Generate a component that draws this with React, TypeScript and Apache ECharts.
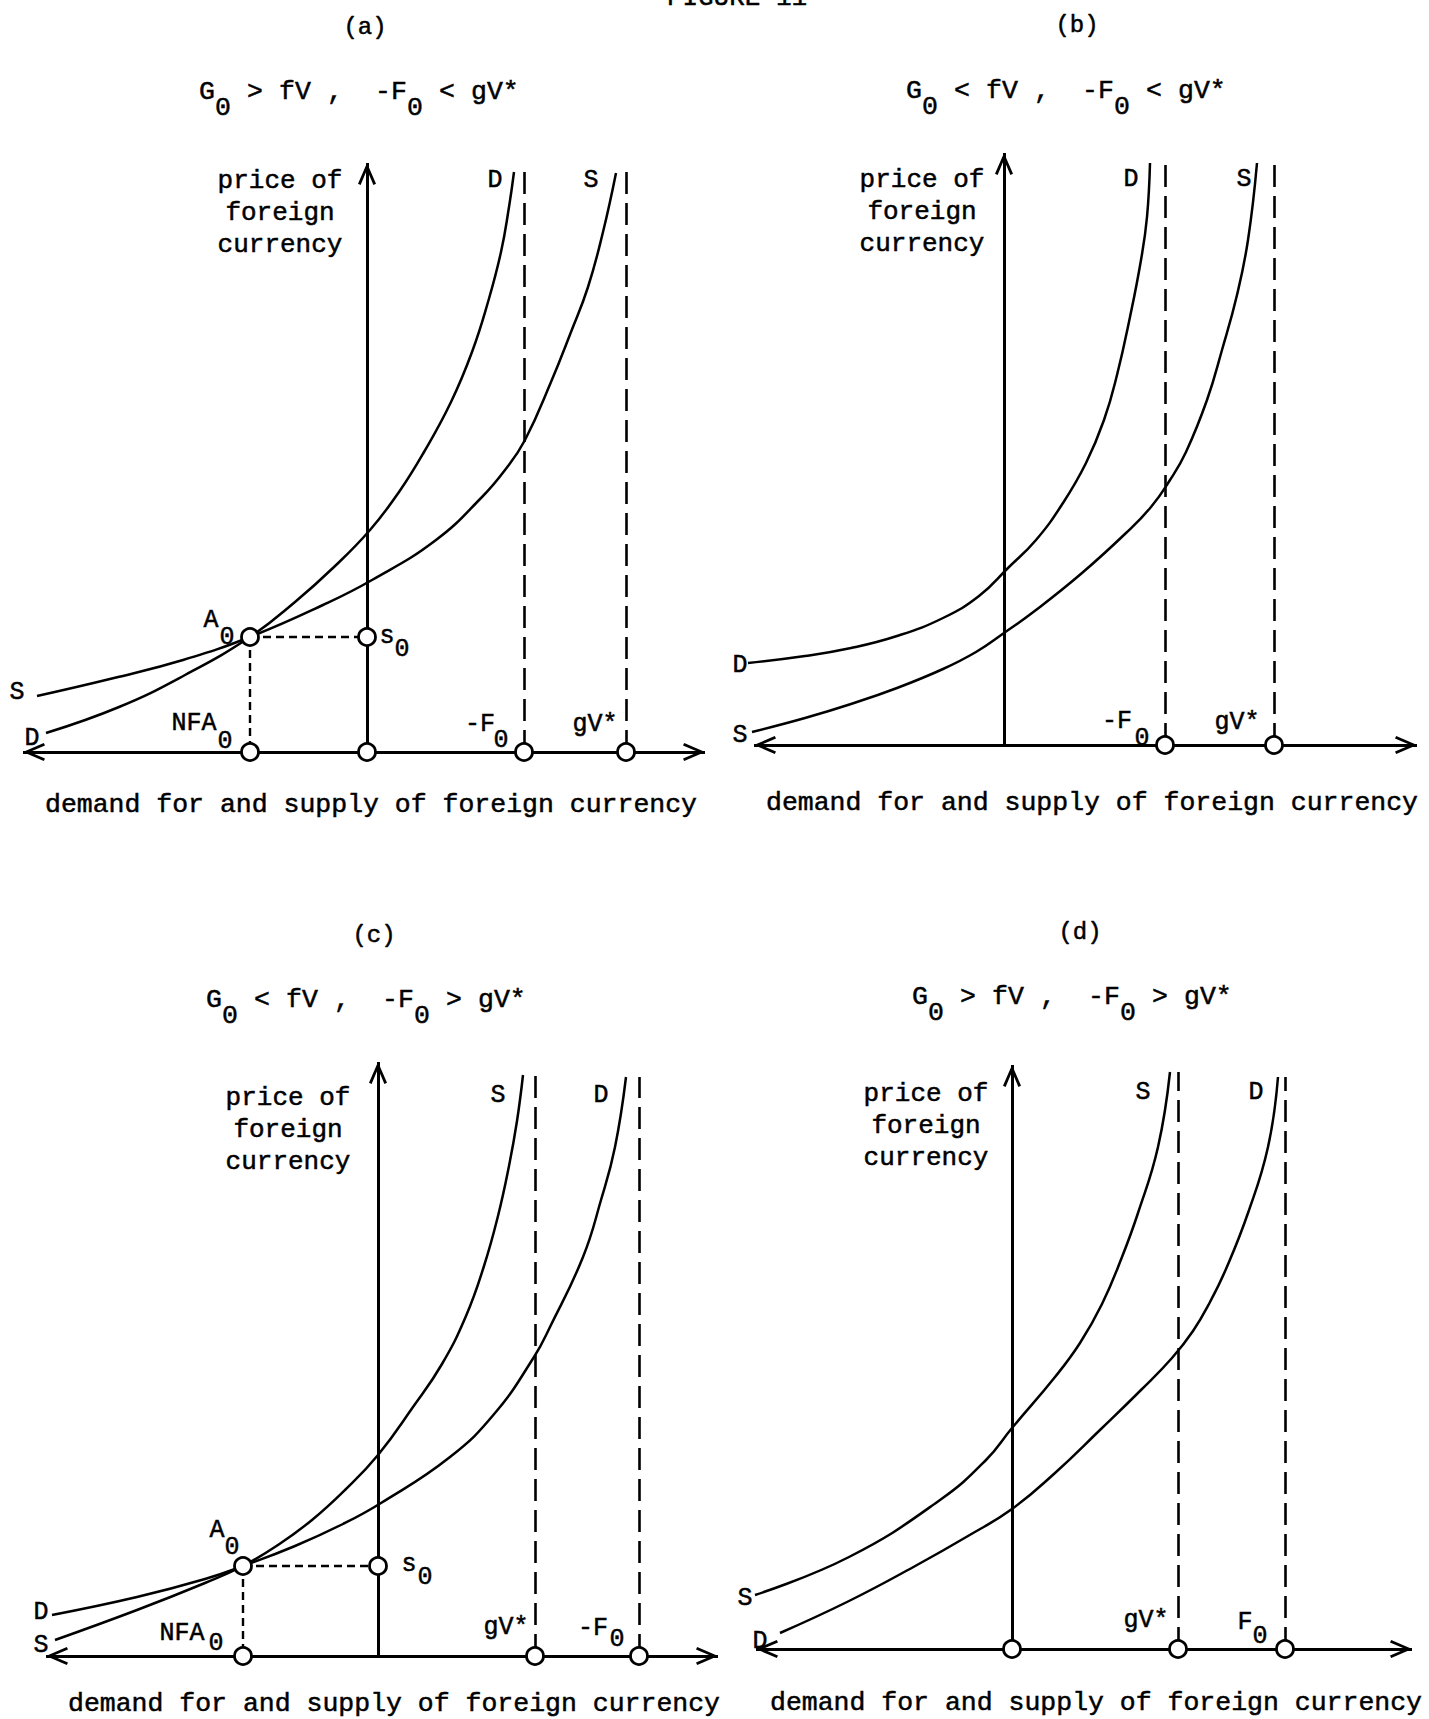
import React, { useEffect, useRef } from "react";
import * as echarts from "echarts";

// ---------------- DATA (panel-local units: right of / above each panel's origin) ----------------
// Panel (a)  G0 > fV , -F0 < gV*
const aDemand = [[-321, 19], [-248, 45], [-182, 77], [-117, 115], [-72, 150], [-33, 185], [3, 222], [32, 260], [57, 300], [84, 350], [105, 400], [121, 450], [134, 500], [142, 545], [147, 580]];
const aSupply = [[-330, 56], [-253, 74], [-184, 92], [-117, 115], [-44, 147], [5, 172], [69, 212], [115, 255], [138, 282], [158, 312], [184, 370], [204, 420], [221, 465], [236, 520], [249, 579]];
const aAxisPoints = [-117, 0, 157, 259]; // NFA0, origin, -F0, gV*
const aEquilibrium = [[-117, 115], [0, 115]]; // A0, s0
const aBounds = [157, 259]; // -F0, gV*
const aBoundTops = [582, 582];

// Panel (b)  G0 < fV , -F0 < gV*
const bDemand = [[-256, 82], [-199, 89], [-153, 97], [-107, 109], [-61, 127], [-25, 149], [4, 177], [32, 205], [59, 242], [82, 282], [100, 325], [113, 370], [126, 428], [137, 485], [143, 528], [146, 582]];
const bSupply = [[-252, 13], [-199, 27], [-153, 41], [-107, 57], [-61, 76], [-28, 93], [0, 112], [32, 135], [78, 172], [122, 212], [147, 238], [166, 265], [182, 293], [203, 345], [218, 395], [233, 450], [244, 505], [253, 582]];
const bAxisPoints = [161, 270]; // -F0, gV*
const bEquilibrium: number[][] = [];
const bBounds = [161, 270];
const bBoundTops = [583, 583];

// Panel (c)  G0 < fV , -F0 > gV*
const cDemand = [[-326, 41], [-241, 59], [-173, 77], [-135, 90], [-83, 110], [-35, 132], [3, 153], [72, 199], [117, 243], [156, 299], [172, 329], [205, 399], [223, 456], [237, 509], [248, 579]];
const cSupply = [[-323, 16], [-241, 46], [-173, 73], [-135, 90], [-100, 111], [-66, 136], [-33, 166], [0, 201], [35, 249], [64, 292], [88, 340], [106, 390], [120, 440], [131, 490], [139, 535], [145, 581]];
const cAxisPoints = [-135, 157, 261]; // NFA0, gV*, -F0
const cEquilibrium = [[-135, 90], [0, 90]]; // A0, s0
const cBounds = [157, 261];
const cBoundTops = [581, 579];

// Panel (d)  G0 > fV , -F0 > gV*
const dDemand = [[-232, 16], [-163, 48], [-95, 84], [-44, 113], [0, 140], [43, 176], [89, 220], [129, 259], [160, 291], [181, 318], [198, 347], [214, 380], [236, 436], [256, 502], [266, 572]];
const dSupply = [[-257, 54], [-163, 92], [-72, 149], [-26, 189], [0, 221], [43, 272], [68, 306], [90, 345], [110, 392], [126, 436], [146, 502], [158, 577]];
const dAxisPoints = [0, 166, 273]; // origin, gV*, F0
const dEquilibrium: number[][] = [];
const dBounds = [166, 273];
const dBoundTops = [577, 572];

// ---------------- LAYOUT ----------------
const FONT = '"Liberation Mono", "DejaVu Sans Mono", monospace';
const ARROW = "path://M0,0L0.01,0L0,0.01Z M0,22L9,43L6.4,44.2L0,28.8L-6.4,44.2L-9,43Z";

const panels = [
  { origin: [367, 752], range: [-360, 420], xExtent: [-344, 338], yTop: 589, demand: aDemand, supply: aSupply, axisPts: aAxisPoints, eq: aEquilibrium, bounds: aBounds, boundTops: aBoundTops },
  { origin: [1004, 745], range: [-360, 424], xExtent: [-250, 413], yTop: 592, demand: bDemand, supply: bSupply, axisPts: bAxisPoints, eq: bEquilibrium, bounds: bBounds, boundTops: bBoundTops },
  { origin: [378, 1656], range: [-360, 420], xExtent: [-332, 340], yTop: 594, demand: cDemand, supply: cSupply, axisPts: cAxisPoints, eq: cEquilibrium, bounds: cBounds, boundTops: cBoundTops },
  { origin: [1012, 1649], range: [-360, 416], xExtent: [-256, 400], yTop: 584, demand: dDemand, supply: dSupply, axisPts: dAxisPoints, eq: dEquilibrium, bounds: dBounds, boundTops: dBoundTops },
];

const titles = [
  { letter: "(a)", lx: 365, ly: 27, rel: [">", "<"], sx: 199, sy: 92, px: 280, py: 213, bx: 371, by: 805 },
  { letter: "(b)", lx: 1077, ly: 25, rel: ["<", "<"], sx: 906, sy: 91, px: 922, py: 212, bx: 1092, by: 803 },
  { letter: "(c)", lx: 374, ly: 935, rel: ["<", ">"], sx: 206, sy: 1000, px: 288, py: 1130, bx: 394, by: 1704 },
  { letter: "(d)", lx: 1080, ly: 932, rel: [">", ">"], sx: 912, sy: 997, px: 926, py: 1126, bx: 1096, by: 1703 },
];

const pointLabels: [string, number, number][] = [
  // (a)
  ["D", 495, 180], ["S", 591, 180], ["S", 17, 692], ["D", 32, 738],
  ["A", 211, 620], ["0", 227, 637], ["s", 387, 636], ["0", 402, 649],
  ["NFA", 194, 723], ["0", 225, 741], ["-F", 480, 724], ["0", 501, 740], ["gV*", 595, 724],
  // (b)
  ["D", 1131, 179], ["S", 1244, 179], ["D", 740, 665], ["S", 740, 735],
  ["-F", 1117, 721], ["0", 1142, 738], ["gV*", 1237, 722],
  // (c)
  ["S", 498, 1095], ["D", 601, 1095], ["A", 217, 1530], ["0", 232, 1547],
  ["s", 409, 1564], ["0", 425, 1577], ["D", 41, 1612], ["S", 41, 1645],
  ["NFA", 182, 1633], ["0", 216, 1643], ["gV*", 506, 1627], ["-F", 593, 1628], ["0", 617, 1639],
  // (d)
  ["S", 1143, 1092], ["D", 1256, 1092], ["S", 745, 1598], ["D", 760, 1641],
  ["gV*", 1146, 1620], ["F", 1245, 1622], ["0", 1260, 1636],
];

function text(t: string, x: number, y: number, size = 25, align = "center", extra: any = {}) {
  return {
    type: "text",
    x,
    y,
    silent: true,
    z: 20,
    style: {
      text: t,
      fontSize: size,
      fontFamily: FONT,
      fill: "#000",
      align,
      verticalAlign: "middle",
      stroke: "#000",
      lineWidth: 0.5,
      ...extra,
    },
  };
}

function buildGraphic() {
  const g: any[] = [];
  g.push(text("FIGURE 11", 737, -2, 26));
  titles.forEach((t) => {
    g.push(text(t.letter, t.lx, t.ly, 24));
    const tokens: [string, number, number][] = [
      ["G", 0, 0], ["0", 1, 1], [t.rel[0], 3, 0], ["fV", 5, 0], [",", 8, 0],
      ["-F", 11, 0], ["0", 13, 1], [t.rel[1], 15, 0], ["gV*", 17, 0],
    ];
    tokens.forEach(([s, idx, sub]) => {
      g.push(text(s, t.sx + idx * 16, t.sy + (sub ? 16 : 0), 26.5, "left"));
    });
    g.push(text("price of\nforeign\ncurrency", t.px, t.py, 26, "center", { lineHeight: 32 }));
    g.push(text("demand for and supply of foreign currency", t.bx, t.by, 26.5));
  });
  pointLabels.forEach(([s, x, y]) => g.push(text(s, x, y, 25)));
  return g;
}

function buildSeries() {
  const series: any[] = [];
  panels.forEach((p, i) => {
    const arrowEnd = { symbol: ARROW, symbolSize: [18, 44] };
    const mlData: any[] = [];
    mlData.push([
      { coord: [p.xExtent[0], 0], ...arrowEnd, lineStyle: { width: 3, type: "solid", color: "#000" } },
      { coord: [p.xExtent[1], 0], ...arrowEnd },
    ]);
    mlData.push([
      { coord: [0, 0], symbol: "none", lineStyle: { width: 3, type: "solid", color: "#000" } },
      { coord: [0, p.yTop], ...arrowEnd },
    ]);
    p.bounds.forEach((x, k) => {
      mlData.push([
        { coord: [x, 0], symbol: "none", lineStyle: { width: 2.6, type: [22, 9], color: "#000" } },
        { coord: [x, p.boundTops[k]], symbol: "none" },
      ]);
    });
    if (p.eq.length === 2) {
      const [a0, s0] = p.eq;
      mlData.push([
        { coord: a0, symbol: "none", lineStyle: { width: 2.4, type: [8, 5], color: "#000" } },
        { coord: s0, symbol: "none" },
      ]);
      mlData.push([
        { coord: a0, symbol: "none", lineStyle: { width: 2.4, type: [8, 5], color: "#000" } },
        { coord: [a0[0], 0], symbol: "none" },
      ]);
    }
    const curve = (name: string, data: number[][], extra: any = {}) => ({
      type: "line",
      name,
      xAxisIndex: i,
      yAxisIndex: i,
      data,
      smooth: 0.45,
      symbol: "none",
      silent: true,
      clip: false,
      z: 3,
      lineStyle: { color: "#000", width: 2.5 },
      ...extra,
    });
    series.push(
      curve("D" + i, p.demand, {
        markLine: {
          silent: true,
          animation: false,
          symbol: ["none", "none"],
          label: { show: false },
          emphasis: { disabled: true },
          lineStyle: { color: "#000" },
          data: mlData,
        },
      })
    );
    series.push(curve("S" + i, p.supply));
    series.push({
      type: "scatter",
      name: "P" + i,
      xAxisIndex: i,
      yAxisIndex: i,
      data: [...p.axisPts.map((x) => [x, 0]), ...p.eq],
      symbol: "circle",
      symbolSize: 17,
      silent: true,
      z: 10,
      itemStyle: { color: "#fff", borderColor: "#000", borderWidth: 2.8, opacity: 1 },
    });
  });
  return series;
}

function buildOption() {
  return {
    animation: false,
    backgroundColor: "#fff",
    grid: panels.map((p) => ({
      left: p.origin[0] + p.range[0],
      top: p.origin[1] - 640,
      width: p.range[1] - p.range[0],
      height: 700,
      show: false,
    })),
    xAxis: panels.map((p, i) => ({ type: "value", gridIndex: i, min: p.range[0], max: p.range[1], show: false })),
    yAxis: panels.map((_, i) => ({ type: "value", gridIndex: i, min: -60, max: 640, show: false })),
    series: buildSeries(),
    graphic: buildGraphic(),
  };
}

export default function App() {
  const ref = useRef<HTMLDivElement>(null);
  useEffect(() => {
    const chart = echarts.init(ref.current as HTMLDivElement, null, { renderer: "svg" });
    chart.setOption(buildOption() as any);
    return () => chart.dispose();
  }, []);
  return (
    <div
      ref={ref}
      style={{ position: "absolute", left: 0, top: 0, width: 1429, height: 1719, background: "#fff" }}
    />
  );
}
